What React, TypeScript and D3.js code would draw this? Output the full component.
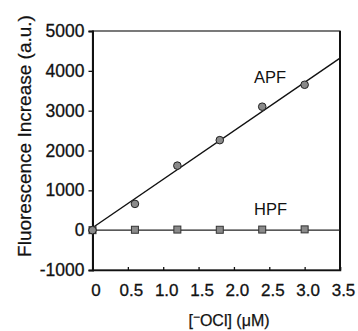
import React, { useEffect, useRef } from "react";
import * as d3 from "d3";

// [OCl-] concentration (uM)
const conc = [0, 0.6, 1.2, 1.8, 2.4, 3.0];
const apf = [0, 660, 1620, 2260, 3100, 3650];
const hpf = [0, 10, 15, 10, 15, 20];
// fitted lines (end points)
const apfFit = [
  { x: 0, y: 60 },
  { x: 3.5, y: 4320 },
];
const hpfFit = [
  { x: 0, y: 0 },
  { x: 3.5, y: 0 },
];
const xTicks = [0, 0.5, 1.0, 1.5, 2.0, 2.5, 3.0, 3.5];
const yTicks = [-1000, 0, 1000, 2000, 3000, 4000, 5000];

const App = () => {
  const ref = useRef<SVGSVGElement>(null);

  useEffect(() => {
    const svg = d3.select(ref.current);
    svg.selectAll("*").remove();

    const font = "'Liberation Sans', Arial, sans-serif";
    const x = d3.scaleLinear().domain([0, 3.5]).range([92.5, 340]);
    const y = d3.scaleLinear().domain([-1000, 5000]).range([270, 31]);

    // frame
    svg
      .append("rect")
      .attr("x", x(0))
      .attr("y", y(5000))
      .attr("width", x(3.5) - x(0))
      .attr("height", y(-1000) - y(5000))
      .attr("fill", "none")
      .attr("stroke", "#222")
      .attr("stroke-width", 1.2);
    svg
      .append("line")
      .attr("x1", x(3.5))
      .attr("x2", x(3.5))
      .attr("y1", y(5000))
      .attr("y2", y(-1000))
      .attr("stroke", "#111")
      .attr("stroke-width", 2);

    const yAxis = svg
      .append("g")
      .attr("transform", `translate(${x(0)},0)`)
      .call(
        d3
          .axisLeft(y)
          .tickValues(yTicks)
          .tickSize(4)
          .tickPadding(4)
          .tickFormat((d) => String(d))
      );
    yAxis.select(".domain").attr("stroke", "#111").attr("stroke-width", 2);
    yAxis.selectAll("line").attr("stroke", "#111").attr("stroke-width", 1.3);
    yAxis
      .selectAll("text")
      .attr("font-family", font)
      .attr("font-size", 17.5)
      .attr("fill", "#111")
      .attr("stroke", "#111")
      .attr("stroke-width", 0.3);

    const xAxis = svg
      .append("g")
      .attr("transform", `translate(0,${y(-1000)})`)
      .call(
        d3
          .axisBottom(x)
          .tickValues(xTicks)
          .tickSize(-3)
          .tickPadding(14)
          .tickFormat((d) => (d === 0 ? "0" : d3.format(".1f")(d as number)))
      );
    xAxis.select(".domain").attr("stroke", "#111").attr("stroke-width", 1.5);
    xAxis.selectAll("line").attr("stroke", "#111").attr("stroke-width", 1.3);
    xAxis
      .selectAll("text")
      .attr("font-family", font)
      .attr("font-size", 17)
      .attr("fill", "#111")
      .attr("stroke", "#111")
      .attr("stroke-width", 0.3)
      .attr("dx", 3);

    const line = d3
      .line<{ x: number; y: number }>()
      .x((d) => x(d.x))
      .y((d) => y(d.y));

    svg
      .append("path")
      .attr("d", line(apfFit))
      .attr("fill", "none")
      .attr("stroke", "#111")
      .attr("stroke-width", 1.4);
    svg
      .append("path")
      .attr("d", line(hpfFit))
      .attr("fill", "none")
      .attr("stroke", "#222")
      .attr("stroke-width", 1.4);

    svg
      .append("g")
      .selectAll("rect")
      .data(conc)
      .join("rect")
      .attr("x", (d) => x(d) - 3.5)
      .attr("y", (d, i) => y(hpf[i]) - 3.5)
      .attr("width", 7)
      .attr("height", 7)
      .attr("fill", "#8a8a8a")
      .attr("stroke", "#333")
      .attr("stroke-width", 1);

    svg
      .append("g")
      .selectAll("circle")
      .data(conc)
      .join("circle")
      .attr("cx", (d) => x(d))
      .attr("cy", (d, i) => y(apf[i]))
      .attr("r", 3.8)
      .attr("fill", "#8a8a8a")
      .attr("stroke", "#222")
      .attr("stroke-width", 1);

    const label = (tx: number, ty: number, s: string) =>
      svg
        .append("text")
        .attr("x", tx)
        .attr("y", ty)
        .attr("font-family", font)
        .attr("font-size", 16.5)
        .attr("fill", "#111")
        .text(s);
    label(254, 83, "APF");
    label(254, 215, "HPF");

    svg
      .append("text")
      .attr("transform", "translate(31,136) rotate(-90)")
      .attr("text-anchor", "middle")
      .attr("font-family", font)
      .attr("font-size", 19)
      .attr("fill", "#111")
      .attr("stroke", "#111")
      .attr("stroke-width", 0.25)
      .text("Fluorescence Increase (a.u.)");

    const xt = svg
      .append("text")
      .attr("x", 229)
      .attr("y", 326)
      .attr("text-anchor", "middle")
      .attr("font-family", font)
      .attr("font-size", 16)
      .attr("fill", "#111")
      .attr("stroke", "#111")
      .attr("stroke-width", 0.25);
    xt.append("tspan").text("[");
    xt.append("tspan").attr("dy", -5).attr("font-size", 12).text("\u2212");
    xt.append("tspan").attr("dy", 5).text("OCl] (\u03bcM)");
  }, []);

  return (
    <div style={{ position: "absolute", left: 0, top: 0 }}>
      <svg ref={ref} width={358} height={331} style={{ display: "block", background: "#fff" }} />
    </div>
  );
};

export default App;
